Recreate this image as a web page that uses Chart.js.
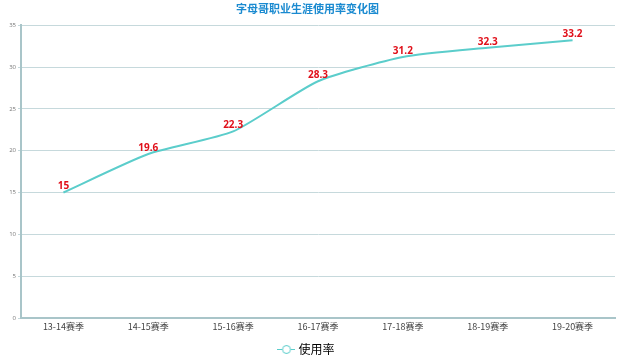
<!DOCTYPE html>
<html>
<head>
<meta charset="utf-8">
<script src="https://cdn.jsdelivr.net/npm/chart.js@4"></script>
<style>
html,body{margin:0;padding:0;background:#fff;}
#wrap{width:640px;height:356px;}
</style>
</head>
<body>
<div id="wrap"><canvas id="myChart" width="640" height="356"></canvas></div>
<script>
var seasons = ['13-14赛季','14-15赛季','15-16赛季','16-17赛季','17-18赛季','18-19赛季','19-20赛季'];
var usage = [15, 19.6, 22.3, 28.3, 31.2, 32.3, 33.2];
var yTicks = [0, 5, 10, 15, 20, 25, 30, 35];

var fontCN = '"Microsoft YaHei","Noto Sans CJK SC","Open Sans",sans-serif';
var lineColor = '#5bcdcb';

// little legend icon: line with a hollow circle
function legendIcon() {
	var c = document.createElement('canvas');
	c.width = 18; c.height = 10;
	var g = c.getContext('2d');
	g.strokeStyle = lineColor;
	g.lineWidth = 1;
	g.beginPath();
	g.moveTo(0, 5.5); g.lineTo(18, 5.5);
	g.stroke();
	g.fillStyle = '#fff';
	g.beginPath();
	g.arc(9, 5.5, 4, 0, Math.PI * 2);
	g.fill();
	g.stroke();
	return c;
}

// puts the values above each point, in red
var valueLabels = {
	id: 'valueLabels',
	afterDatasetsDraw: function(chart) {
		var ctx = chart.ctx;
		var meta = chart.getDatasetMeta(0);
		ctx.save();
		ctx.fillStyle = '#e0101a';
		ctx.font = 'bold 10px "Open Sans","Noto Sans",sans-serif';
		ctx.textAlign = 'center';
		ctx.textBaseline = 'bottom';
		meta.data.forEach(function(pt, i) {
			ctx.fillText(String(usage[i]), pt.x, pt.y - 1);
		});
		ctx.restore();
	}
};

var ctx = document.getElementById('myChart').getContext('2d');
var myLineChart = new Chart(ctx, {
	type: 'line',
	data: {
		labels: seasons,
		datasets: [{
			label: '使用率',
			data: usage,
			borderColor: lineColor,
			backgroundColor: '#ffffff',
			borderWidth: 2,
			pointRadius: 0,
			pointHoverRadius: 0,
			tension: 0.2
		}]
	},
	options: {
		responsive: false,
		animation: false,
		layout: {padding: {left: 0, right: 25, top: 0, bottom: -9}},
		plugins: {
			title: {
				display: true,
				text: '字母哥职业生涯使用率变化图',
				color: '#1a8ad0',
				font: {family: fontCN, size: 11, weight: 'bold'},
				padding: {top: 2, bottom: 10}
			},
			legend: {
				position: 'bottom',
				labels: {
					usePointStyle: true,
					color: '#333',
					font: {family: fontCN, size: 12},
					padding: 4,
					generateLabels: function(chart) {
						return [{
							text: '使用率',
							pointStyle: legendIcon(),
							strokeStyle: lineColor,
							fillStyle: '#fff',
							lineWidth: 1,
							datasetIndex: 0
						}];
					}
				}
			},
			tooltip: {enabled: false}
		},
		scales: {
			x: {
				offset: true,
				afterFit: function(axis) { axis.height = 21; },
				grid: {display: false, tickLength: 2, color: '#a9c5c9'},
				border: {color: '#a9c5c9', width: 2},
				ticks: {color: '#444', font: {family: fontCN, size: 9}, padding: 1, maxRotation: 0}
			},
			y: {
				min: 0,
				max: 35,
				afterBuildTicks: function(axis) {
					axis.ticks = yTicks.map(function(v) { return {value: v}; });
				},
				afterFit: function(axis) { axis.width = 21; },
				grid: {color: '#c6d9dc', tickLength: 3, lineWidth: 1},
				border: {color: '#a9c5c9', width: 2},
				ticks: {color: '#777', font: {family: 'Open Sans', size: 6}, padding: 2}
			}
		}
	},
	plugins: [valueLabels]
});
</script>
</body>
</html>
